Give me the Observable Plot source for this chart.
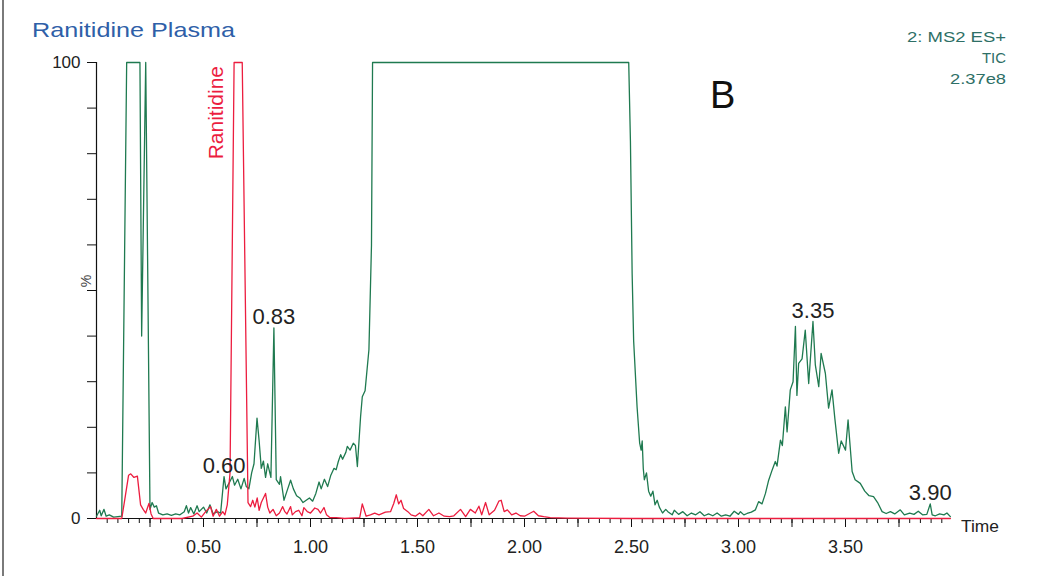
<!DOCTYPE html>
<html><head><meta charset="utf-8">
<script src="https://cdn.jsdelivr.net/npm/d3@7"></script>
<script src="https://cdn.jsdelivr.net/npm/@observablehq/plot@0.6"></script>
<style>
html,body{margin:0;padding:0;background:#fff;}
#wrap{position:relative;width:1047px;height:576px;overflow:hidden;}
#wrap svg{display:block;}
#border{position:absolute;left:2px;top:0;width:2px;height:576px;background:#7a7a7a;}
</style></head><body><div id="wrap"><div id="border"></div></div>
<script>
// ---- data (time in min, intensity in %) ----
const ticTrace = [
 [0.000,0.5],[0.015,1.8],[0.022,0.6],[0.035,2.0],[0.045,0.5],[0.060,0.8],[0.080,0.3],[0.100,0.4],[0.118,0.5],
 [0.141,100],[0.203,100],[0.211,40],[0.230,100],[0.250,2],[0.260,3.5],[0.270,2.5],[0.280,2.8],[0.290,1.2],
 [0.310,0.8],[0.330,1.0],[0.350,0.7],[0.370,1.0],[0.390,0.8],[0.410,1.5],[0.420,2.8],[0.430,1.2],[0.440,2.4],
 [0.455,1.0],[0.470,2.8],[0.480,1.5],[0.500,2.5],[0.515,1.2],[0.530,3.0],[0.545,1.0],[0.565,1.5],[0.580,1.2],
 [0.596,9.2],[0.605,6.5],[0.620,7.8],[0.635,9.2],[0.645,7.3],[0.660,8.6],[0.675,6.5],[0.690,8.8],[0.700,7.0],
 [0.712,6.5],[0.725,10],[0.736,12],[0.750,22],[0.760,17],[0.770,11],[0.780,12.6],[0.790,9],[0.800,12],
 [0.815,9],[0.829,41.8],[0.840,8.5],[0.855,7.5],[0.860,9.2],[0.876,4],[0.890,6],[0.907,8.4],[0.920,6.5],
 [0.935,5],[0.950,4.5],[0.965,3.5],[0.980,4],[0.995,4.5],[1.010,3.8],[1.025,5.5],[1.040,8],[1.050,6.5],
 [1.065,8.6],[1.080,7],[1.095,9.5],[1.110,11],[1.120,10.7],[1.130,12.5],[1.141,14],[1.150,13],[1.165,14.5],
 [1.172,15.8],[1.185,15],[1.200,16.5],[1.210,16],[1.219,11.4],[1.234,22.3],[1.242,26.7],[1.255,28],
 [1.273,37],[1.285,60],[1.290,100],[2.487,100],[2.495,82.8],[2.503,53.7],[2.510,39],[2.526,24.5],
 [2.538,16.6],[2.545,15],[2.550,17],[2.555,11],[2.560,8.5],[2.570,10],[2.580,6],[2.590,4.9],[2.600,6],
 [2.610,3],[2.620,4],[2.630,2.5],[2.645,1.2],[2.660,2],[2.670,1.5],[2.690,0.8],[2.700,1.8],[2.720,0.9],
 [2.740,1.5],[2.760,0.6],[2.780,1.2],[2.800,0.8],[2.820,1.5],[2.840,0.6],[2.860,1.0],[2.880,0.6],[2.900,1.2],
 [2.920,0.5],[2.940,0.8],[2.960,0.5],[2.980,1.6],[3.000,0.9],[3.009,1.5],[3.025,0.8],[3.040,1.1],[3.060,1.4],
 [3.079,1.9],[3.094,3.7],[3.110,3.2],[3.126,5.5],[3.141,8.4],[3.157,10.6],[3.172,12.5],[3.180,11.5],
 [3.196,17.2],[3.205,16],[3.219,24.5],[3.227,19],[3.242,28.2],[3.255,30],[3.266,42.1],[3.273,27],
 [3.281,34],[3.297,35],[3.312,41.3],[3.328,29.6],[3.348,43.2],[3.359,33.7],[3.375,28.9],[3.386,36.2],
 [3.406,31.8],[3.421,24.2],[3.437,28.2],[3.450,22],[3.468,14.3],[3.480,17],[3.500,15],[3.512,21.6],
 [3.531,10.3],[3.545,8.5],[3.569,7.7],[3.590,6],[3.610,5],[3.631,4.8],[3.650,3.5],[3.671,1.5],[3.690,1.1],
 [3.710,1.5],[3.730,1.0],[3.756,1.9],[3.775,0.8],[3.800,1.2],[3.820,0.9],[3.840,1.6],[3.860,0.8],[3.880,0.9],
 [3.896,3.2],[3.905,0.8],[3.920,0.6],[3.940,1.0],[3.960,0.8],[3.974,1.2],[3.990,0.4]
];
const ranitidineTrace = [
 [0.000,0],[0.118,0],[0.135,5],[0.150,9.5],[0.160,9.8],[0.175,9.0],[0.191,9.3],[0.206,3],[0.218,2],
 [0.230,1.2],[0.245,3.3],[0.255,1],[0.265,0],[0.400,0],[0.450,0.5],[0.470,1.2],[0.490,0.3],[0.510,1.5],
 [0.533,2.6],[0.545,0.5],[0.560,2.0],[0.575,0.5],[0.590,1.5],[0.600,0.8],[0.611,3.0],[0.624,10],[0.643,100],
 [0.681,100],[0.708,3.5],[0.720,2.6],[0.730,4],[0.740,2.5],[0.751,4.5],[0.760,1.8],[0.770,3.5],[0.790,5.5],
 [0.800,2.5],[0.810,1.2],[0.825,2],[0.840,0.6],[0.855,1.2],[0.870,2.6],[0.880,1.5],[0.890,1],[0.907,2.6],
 [0.915,0.8],[0.930,1.5],[0.945,1.8],[0.960,0.6],[0.969,2.4],[0.985,1.5],[1.000,1.2],[1.020,2.3],[1.035,2.0],
 [1.047,1.2],[1.063,2.4],[1.075,0.8],[1.090,0.2],[1.120,0.2],[1.160,0],[1.230,0.2],[1.242,3.2],[1.260,0.5],
 [1.280,0.8],[1.300,1.2],[1.320,0.8],[1.350,1.4],[1.374,1.5],[1.389,3.3],[1.401,5.2],[1.412,3.2],[1.423,4],
 [1.435,2.2],[1.455,1.5],[1.470,0.8],[1.490,0.5],[1.510,1.2],[1.525,0.6],[1.553,2],[1.575,0.6],[1.600,1.2],
 [1.625,0.5],[1.650,0.4],[1.670,0.6],[1.701,2],[1.725,0.4],[1.747,2],[1.770,1.2],[1.787,2.7],[1.800,0.8],
 [1.818,3.5],[1.835,0.8],[1.860,1.8],[1.880,3.8],[1.891,4],[1.905,1.5],[1.920,1.9],[1.940,0.8],[1.960,1.2],
 [1.980,0.6],[2.000,0.5],[2.043,1.6],[2.065,0.6],[2.090,0.4],[2.120,0.2],[2.200,0.1],[2.500,0],[3.990,0]
];
const peakLabels = ["0.60","0.83","3.35","3.90"];
const peakTimes  = [0.596, 0.829, 3.348, 3.896];
const peakPcts   = [9.2, 41.8, 43.2, 3.2];
const compoundLabel = "Ranitidine";
const compoundPos = [0.56, 89];
const xLabelTicks = [0.5,1.0,1.5,2.0,2.5,3.0,3.5];
const xMajorTicks = [0.25,0.5,0.75,1.0,1.25,1.5,1.75,2.0,2.25,2.5,2.75,3.0,3.25,3.5,3.75];
const xMinorTicks = d3.range(1,80).map(i => i*0.05);
const yTicks = [0,10,20,30,40,50,60,70,80,90,100];
const yTickLabels = ["0","","","","","","","","","","100"];
const titleText = "Ranitidine Plasma";
const infoLines = ["2: MS2 ES+","TIC","2.37e8"];
const panelLetter = "B";
const xDomain = [0, 4.0];
const xAxisEnd = 3.99;

const green = "#1f7a50", red = "#ec1d3f";
const tic = ticTrace.map(([t,v]) => ({t, v}));
const rani = ranitidineTrace.map(([t,v]) => ({t, v}));
const peaks = peakLabels.map((label,i) => ({label, t: peakTimes[i], v: peakPcts[i]}));

const svg = Plot.plot({
  width: 1047, height: 576,
  marginLeft: 96, marginRight: 95, marginTop: 62, marginBottom: 58,
  style: {fontFamily: "'Liberation Sans', Arial, sans-serif", color: "#1a1a1a", background: "transparent", overflow: "visible"},
  x: {domain: xDomain},
  y: {domain: [0, 100]},
  marks: [
    Plot.axisX({ticks: xMinorTicks, tickSize: 5, tickFormat: () => "", label: null, stroke: "#111"}),
    Plot.axisX({ticks: xMajorTicks, tickSize: 9, tickFormat: () => "", label: null, stroke: "#111"}),
    Plot.axisX({ticks: xLabelTicks, tickSize: 9, tickPadding: 13, tickFormat: d3.format(".2f"), fontSize: 18, label: null, stroke: "#111", fill: "#222"}),
    Plot.axisY({ticks: yTicks, tickSize: 9, tickPadding: 7, tickFormat: (d) => yTickLabels[yTicks.indexOf(d)], fontSize: 17, label: null, stroke: "#111", fill: "#222"}),
    Plot.ruleY([0], {x1: 0, x2: xAxisEnd, stroke: "#111", strokeWidth: 1.2}),
    Plot.ruleX([0], {y1: 0, y2: 100, stroke: "#111", strokeWidth: 1.2}),
    Plot.line(tic, {x: "t", y: "v", stroke: green, strokeWidth: 1.3}),
    Plot.line(rani, {x: "t", y: "v", stroke: red, strokeWidth: 1.3}),
    Plot.text(peaks, {x: "t", y: "v", text: "label", dy: -4, lineAnchor: "bottom", textAnchor: "middle", fontSize: 22, fill: "#222"}),
    Plot.text([compoundLabel], {x: () => compoundPos[0], y: () => compoundPos[1], text: d => d, rotate: -90, textAnchor: "middle", fontSize: 21, fill: red})
  ]
});
const s = d3.select(svg);
s.append("text").attr("x", 32).attr("y", 37).attr("text-anchor", "start").attr("font-size", 21).attr("fill", "#2f5fa8")
  .attr("textLength", 203).attr("lengthAdjust", "spacingAndGlyphs").text(titleText);
const infoY = [41.7, 63, 83.5], infoW = [99, 24, 56];
infoLines.forEach((txt, i) => {
  s.append("text").attr("x", 1006 - infoW[i]).attr("y", infoY[i]).attr("text-anchor", "start").attr("font-size", 14.5)
    .attr("fill", "#2e6f66").attr("textLength", infoW[i]).attr("lengthAdjust", "spacingAndGlyphs").text(txt);
});
s.append("text").attr("x", 710).attr("y", 108).attr("text-anchor", "start").attr("font-size", 38).attr("fill", "#111").text(panelLetter);
s.append("text").attr("x", 961).attr("y", 531.5).attr("text-anchor", "start").attr("font-size", 16).attr("fill", "#222")
  .attr("textLength", 38).attr("lengthAdjust", "spacingAndGlyphs").text("Time");
s.append("text").attr("transform", "translate(91,281) rotate(-90)").attr("text-anchor", "middle")
  .attr("font-size", 14).attr("fill", "#444").text("%");
document.getElementById("wrap").appendChild(svg);
</script></body></html>
